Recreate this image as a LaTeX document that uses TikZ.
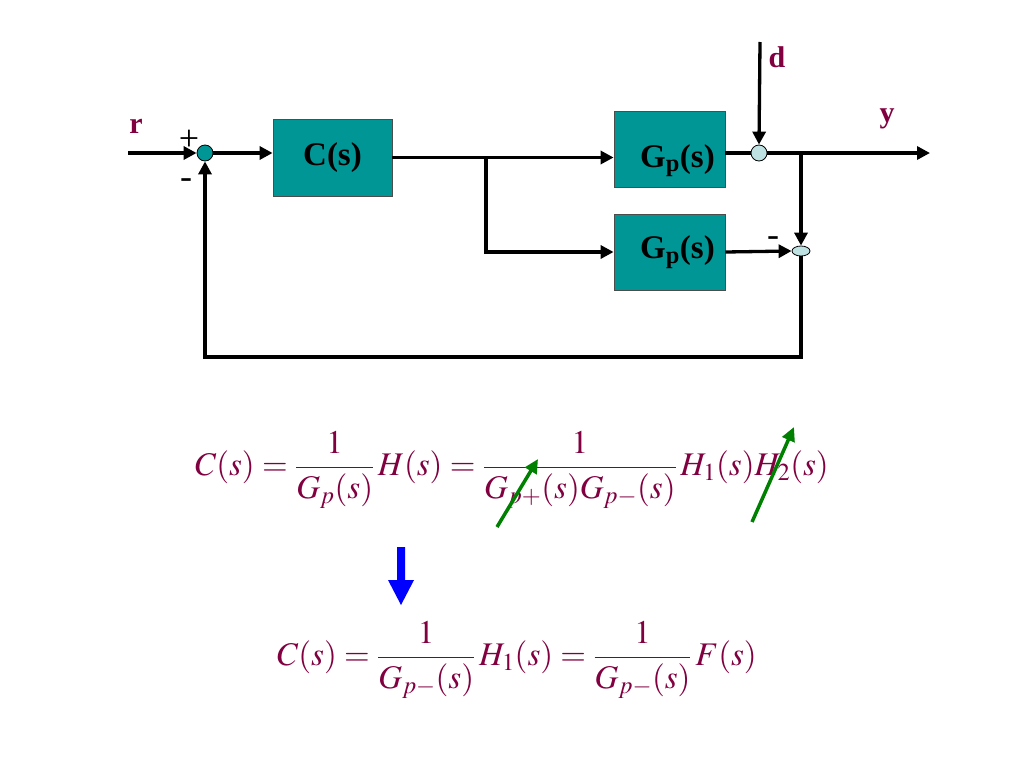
\documentclass[tikz,border=0pt]{standalone}
\usepackage{amsmath}
\usepackage{mathptmx}
\usepackage{fontspec}
\setmainfont{Liberation Serif}
\usetikzlibrary{arrows.meta,shapes.geometric}
\definecolor{mar}{RGB}{128,0,64}
\definecolor{boxc}{RGB}{0,150,150}
\definecolor{sumlite}{RGB}{190,225,225}
\definecolor{grn}{RGB}{0,128,0}
\begin{document}
\begin{tikzpicture}[x=1pt,y=-1pt,
  wire/.style={line width=3.3pt},
  arr/.style={wire,-{Triangle[length=13pt,width=13pt]}},
  blk/.style={draw=black!70,line width=0.8pt,fill=boxc,minimum width=111pt,minimum height=76pt,inner sep=0pt,font=\fontsize{33}{35}\selectfont\bfseries},
  sumc/.style={circle,draw=black,line width=0.8pt,fill=boxc,minimum size=16pt,inner sep=0pt},
  sumd/.style={circle,draw=black,line width=0.8pt,fill=sumlite,minimum size=16pt,inner sep=0pt},
  sume/.style={ellipse,draw=black,line width=0.8pt,fill=sumlite,minimum width=18pt,minimum height=10pt,inner sep=0pt},
  lab/.style={text=mar,font=\fontsize{30}{32}\selectfont\bfseries},
  sgn/.style={font=\fontsize{36}{38}\selectfont},
  eqn/.style={text=mar,font=\fontsize{33}{36}\selectfont},
  garr/.style={grn,line width=3.5pt,-{Triangle[length=14pt,width=13pt]}}]
\useasboundingbox (0,0) rectangle (1024,768);
% blocks
\node[sumc] (s1) at (205,153) {};
\node[blk,minimum width=119pt,minimum height=77pt] (C) at (332.5,157.5) {C(s)};
\node[blk] (G1) at (669.5,149) {\hspace*{16pt}\raisebox{-18pt}[0pt][0pt]{G\textsubscript{p}(s)}};
\node[blk] (G2) at (669.5,252) {\hspace*{16pt}G\textsubscript{p}(s)};
\node[sumd] (s2) at (759,153) {};
\node[sume] (s3) at (801,251) {};
\coordinate (rin) at (128,153);
\coordinate (yout) at (930,153);
\coordinate (dtop) at (760,42);
\coordinate (b1) at (486,157.5);
\coordinate (b2) at (801,153);
\coordinate (fb1) at (801,357);
\coordinate (fb2) at (205,357);
% connectors
\draw[arr] (rin) -- (s1.west);
\draw[arr] (s1.east) -- (s1.east -| C.west);
\draw[arr] (C.east) -- (C.east -| G1.west);
\draw[arr] (b1) -- (b1 |- G2) -- (G2.west);
\draw[wire] (G1.east |- s2) -- (s2.west);
\draw[arr] (s2.east) -- (yout);
\draw[arr] (dtop) -- (s2.north);
\draw[arr] (b2) -- (s3.north);
\draw[arr] (G2.east) -- (s3.west);
\draw[arr] (s3.south) -- (fb1) -- (fb2) -- (s1.south);
% labels
\node[lab] (lr) at (136,126) {r};
\node[lab] (ld) at (777,57) {d};
\node[lab] (ly) at (887,119) {y};
\node[sgn] (lp) at (189,140) {+};
\node[sgn] (lm1) at (186,184) {-};
\node[sgn] (lm2) at (773,242) {-};
% equations
\node[eqn] (eq1) at (512,470) {$C(s)=\dfrac{1}{G_p(s)}\,H(s)=\dfrac{1}{G_{p+}(s)G_{p-}(s)}\,H_1(s)H_2(s)$};
\node[eqn] (eq2) at (517,660) {$C(s)=\dfrac{1}{G_{p-}(s)}\,H_1(s)=\dfrac{1}{G_{p-}(s)}\,F(s)$};
% green strike arrows
\coordinate (g1a) at (497,527); \coordinate (g1b) at (538,459);
\coordinate (g2a) at (752,522); \coordinate (g2b) at (794,427);
\draw[garr] (g1a) -- (g1b);
\draw[garr] (g2a) -- (g2b);
% blue arrow
\fill[blue] (397,547) -- (405,547) -- (405,580) -- (414,580) -- (401,605) -- (388,580) -- (397,580) -- cycle;
\end{tikzpicture}
\end{document}
